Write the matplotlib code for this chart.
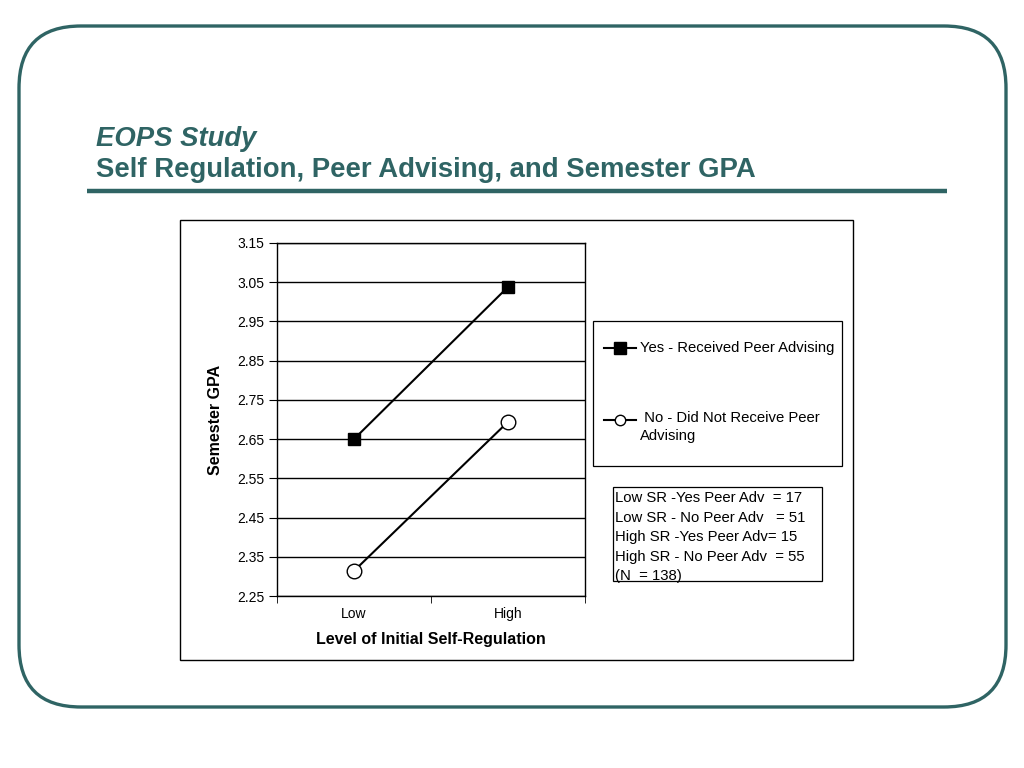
import matplotlib
matplotlib.use("Agg")
from matplotlib import pyplot as plt
from matplotlib.patches import FancyBboxPatch, Rectangle

plt.rcParams['font.family'] = ['Liberation Sans', 'DejaVu Sans']

# data
levels = ['Low', 'High']
yes_gpa = [2.650, 3.038]
no_gpa = [2.314, 2.694]
yticks = [2.25, 2.35, 2.45, 2.55, 2.65, 2.75, 2.85, 2.95, 3.05, 3.15]
yes_label = 'Yes - Received Peer Advising'
no_label = ' No - Did Not Receive Peer\nAdvising'
count_lines = ['Low SR -Yes Peer Adv  = 17',
               'Low SR - No Peer Adv   = 51',
               'High SR -Yes Peer Adv= 15',
               'High SR - No Peer Adv  = 55',
               '(N  = 138)']

teal = '#2f6464'

fig = plt.figure(figsize=(10.24, 7.68), dpi=100)

# background layer in pixel units for the slide decorations
bg = fig.add_axes([0, 0, 1, 1])
bg.set_xlim(0, 1024)
bg.set_ylim(768, 0)
bg.axis('off')
bg.add_patch(FancyBboxPatch((19, 26), 987, 681, boxstyle='round,pad=0,rounding_size=62',
                            fc='none', ec=teal, lw=2.4))
bg.plot([87, 947], [191, 191], color=teal, lw=3.2, solid_capstyle='butt')
bg.text(96, 146, 'EOPS Study', color=teal, fontsize=19.8, fontweight='bold',
        fontstyle='italic', va='baseline')
bg.text(96, 177, 'Self Regulation, Peer Advising, and Semester GPA', color=teal,
        fontsize=19.8, fontweight='bold', va='baseline')
bg.add_patch(Rectangle((179.5, 219.5), 673, 440, fc='none', ec='black', lw=1))

# legend box drawn by hand
bg.add_patch(Rectangle((592.5, 320.5), 249, 145, fc='white', ec='black', lw=0.9))
bg.plot([604, 636], [348, 348], color='black', lw=1.5, zorder=3)
bg.plot([620], [348], color='black', marker='s', ms=8.5, zorder=4)
bg.text(640, 348, yes_label, fontsize=10.7, va='center', ha='left')
bg.plot([604, 636], [420, 420], color='black', lw=1.5, zorder=3)
bg.plot([620], [420], marker='o', ms=7.5, mfc='white', mec='black', mew=1, zorder=4)
bg.text(640, 411, no_label, fontsize=10.7, va='top', ha='left', linespacing=1.35)

# counts box
bg.add_patch(Rectangle((612.5, 486.5), 209, 94, fc='none', ec='black', lw=0.9))
for i, line in enumerate(count_lines):
    bg.text(615, 498 + i * 19.5, line, fontsize=10.7, va='center', ha='left')

# main plot
ax = fig.add_axes([277 / 1024, 1 - 596 / 768, 308 / 1024, 353 / 768])
x = list(range(len(levels)))
ax.plot(x, yes_gpa, color='black', lw=1.5, marker='s', ms=8.5, mfc='black', mec='black',
        label=yes_label)
ax.plot(x, no_gpa, color='black', lw=1.5, marker='o', ms=10.5, mfc='white', mec='black',
        mew=1, label=no_label)
ax.set_xlim(-0.5, 1.5)
ax.set_ylim(2.25, 3.15)
ax.set_yticks(yticks)
ax.set_yticklabels(['%.2f' % v for v in yticks], fontsize=10)
ax.yaxis.grid(True, color='black', lw=1)
ax.set_axisbelow(True)
ax.set_xticks(x)
ax.set_xticklabels(levels, fontsize=10)
ax.tick_params(axis='x', length=0, pad=8)
ax.set_xticks([-0.5, 0.5, 1.5], minor=True)
ax.tick_params(axis='x', which='minor', length=5, direction='out', color='black')
ax.tick_params(axis='y', length=6, direction='out', pad=3)
for s in ax.spines.values():
    s.set_color('black')
    s.set_linewidth(1)
ax.set_ylabel('Semester GPA', fontsize=11.5, fontweight='bold', labelpad=10)
ax.set_xlabel('Level of Initial Self-Regulation', fontsize=11.5, fontweight='bold', labelpad=8)

fig.savefig('out.png', dpi=100)
